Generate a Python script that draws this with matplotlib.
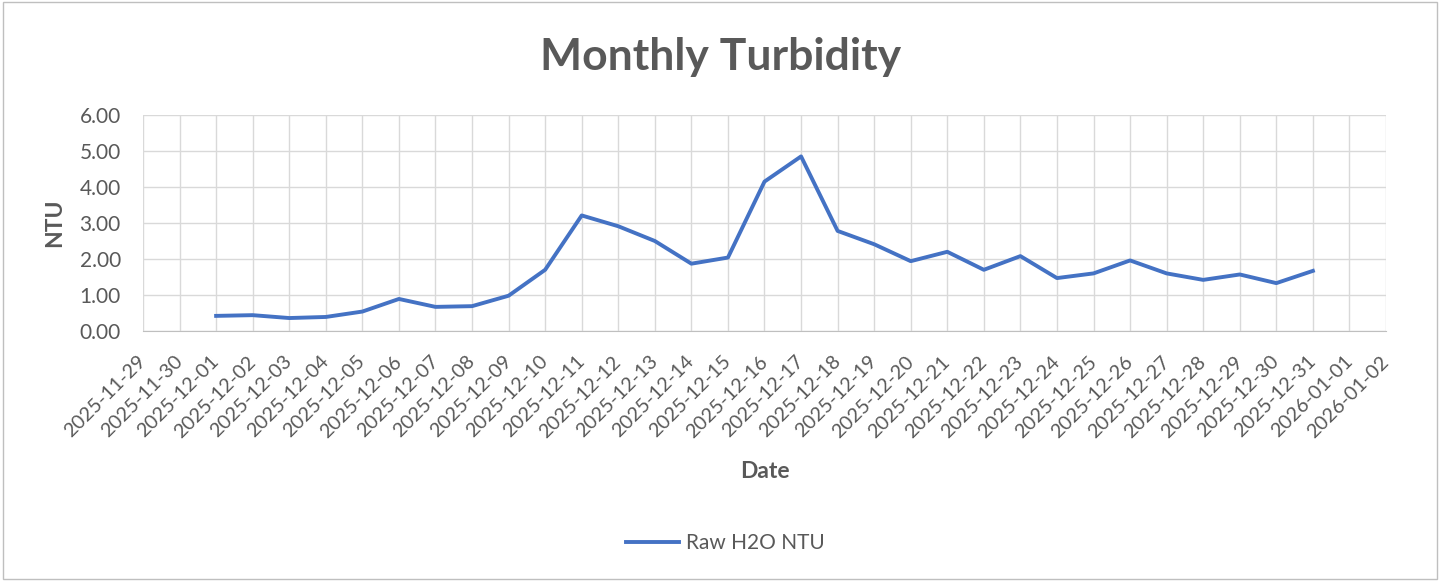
import numpy as np
import matplotlib
matplotlib.use('Agg')
import matplotlib.pyplot as plt
import matplotlib.dates as mdates
from datetime import datetime, timedelta

plt.rcParams['font.family'] = ['Lato', 'DejaVu Sans']

# data
start_day = datetime(2025, 12, 1)
ntu = [0.42, 0.44, 0.36, 0.39, 0.54, 0.89, 0.67, 0.69, 0.98, 1.70,
       3.21, 2.91, 2.50, 1.87, 2.04, 4.15, 4.85, 2.78, 2.41, 1.94,
       2.20, 1.70, 2.08, 1.47, 1.60, 1.96, 1.60, 1.42, 1.57, 1.33,
       1.67]
dates = [start_day + timedelta(days=i) for i in range(len(ntu))]
x_min = datetime(2025, 11, 29)
x_max = datetime(2026, 1, 2)

GREY = '#595959'
W, H = 1441, 581

fig = plt.figure(figsize=(W / 100, H / 100), dpi=100)
ax = fig.add_axes([143 / W, 1 - 331 / H, (1386 - 143) / W, (331 - 115) / H])

ax.plot(dates, ntu, color='#4472C4', linewidth=2.8, label='Raw H2O NTU')

ax.set_xlim(x_min, x_max)
ax.set_ylim(0, 6)
ax.set_yticks(np.arange(0, 6.01, 1))
ax.yaxis.set_major_formatter(plt.FuncFormatter(lambda v, p: f'{v:.2f}'))
ax.xaxis.set_major_locator(mdates.DayLocator())
ax.xaxis.set_major_formatter(mdates.DateFormatter('%Y-%m-%d'))

ax.grid(True, color='#d9d9d9', linewidth=1)
ax.set_axisbelow(True)
for s in ['top', 'left', 'right']:
    ax.spines[s].set_visible(False)
ax.spines['bottom'].set_color('#bfbfbf')
ax.tick_params(length=0, colors=GREY)
ax.tick_params(axis='x', labelsize=14.3, pad=20)
ax.tick_params(axis='y', labelsize=15, pad=16)
plt.setp(ax.get_xticklabels(), rotation=45, ha='right', va='center', rotation_mode='anchor')

ax.set_xlabel('Date', fontsize=16.5, fontweight='bold', color=GREY)
ax.xaxis.set_label_coords(0.5, (331 - 472) / 216)
ax.xaxis.label.set_va('center')
ax.set_ylabel('NTU', fontsize=16.5, fontweight='bold', color=GREY)
ax.yaxis.set_label_coords((55 - 143) / 1243, 0.5)
ax.yaxis.label.set_va('center')

fig.text(0.5, 1 - 57 / H, 'Monthly Turbidity', fontsize=32, fontweight='bold',
         color=GREY, ha='center', va='center')

fig.legend(loc='center', bbox_to_anchor=(0.5035, 1 - 543 / H), frameon=False,
           fontsize=15, labelcolor=GREY, handlelength=2.5, handletextpad=0.35)

# outer chart border
fig.patches.append(plt.Rectangle((0.002, 0.003), 0.995, 0.994, transform=fig.transFigure,
                                 fill=False, edgecolor='#bfbfbf', linewidth=1))

fig.savefig('out.png', dpi=100)
